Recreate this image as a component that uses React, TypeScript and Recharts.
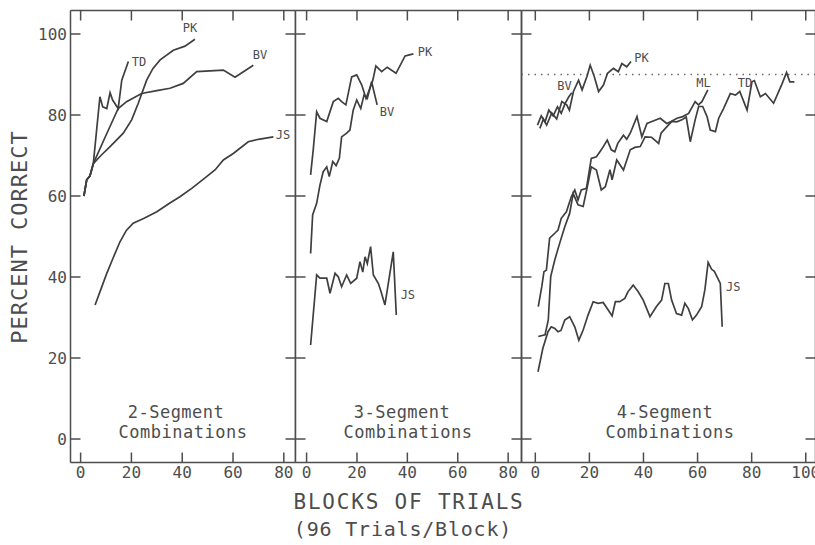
import { Line, LineChart, ReferenceDot, ReferenceLine, XAxis, YAxis } from 'recharts'

type Pt = [number, number]

type SeriesName = {
  name: string
  x: number
  y: number
}

type Series = {
  name: string
  pts: Pt[]
}

// shared percent-correct axis
const pctTicks = [0, 20, 40, 60, 80, 100]
const blockTicks2 = [0, 20, 40, 60, 80]
const blockTicks3 = [0, 20, 40, 60, 80]
const blockTicks4 = [0, 20, 40, 60, 80, 100]
const criterion = 90

// 2-segment combinations
const seg2TD: Pt[] = [
  [1.3, 60], [2.4, 64], [3.7, 65], [5, 68], [7.6, 84.5], [8.7, 82], [10.3, 81.6],
  [11.6, 85.5], [12.6, 83.7], [14.8, 81.6], [16.2, 88.6], [18.8, 93.2],
]
const seg2PK: Pt[] = [
  [1.3, 60], [2.4, 64], [3.7, 65], [5, 68], [8, 70], [11.6, 72.2], [16.8, 75.5],
  [20.1, 78.8], [22.7, 82.9], [26, 88.6], [28.5, 91.5], [31.3, 93.6], [36.5, 96],
  [41.1, 97], [45, 98.7],
]
const seg2BV: Pt[] = [
  [1.3, 60], [2.4, 64], [3.7, 65], [5, 68], [10, 75], [14.8, 81.6], [18.1, 83.3],
  [24, 85.3], [30, 86], [35.2, 86.6], [40.4, 87.8], [45.7, 90.7], [51, 90.9],
  [56.2, 91.1], [60.8, 89.3], [68, 92.3],
]
const seg2JS: Pt[] = [
  [5.7, 33.1], [8, 37], [10.3, 40.9], [13, 45], [15.5, 48.7], [18, 51.5], [20.7, 53.3],
  [25, 54.5], [30, 56.1], [35, 58.2], [39.1, 59.8], [44, 62], [49.6, 64.8], [53, 66.5],
  [56.2, 68.9], [60.1, 70.5], [66, 73.4], [70, 74], [75.9, 74.6],
]
const seg2Names: SeriesName[] = [
  { name: 'PK', x: 43.1, y: 101.5 },
  { name: 'TD', x: 23, y: 93.1 },
  { name: 'BV', x: 70.6, y: 95 },
  { name: 'JS', x: 79.7, y: 75.1 },
]

// 3-segment combinations
const seg3PK: Pt[] = [
  [1.6, 65.2], [2.7, 71.8], [4, 80.8], [5.3, 79.2], [8, 78.4], [10.6, 83.3], [12.6, 84.1],
  [13.9, 83.3], [15.6, 82.5], [17.9, 89.4], [19.9, 89.9], [21.9, 87.4], [23.6, 84.1],
  [24.9, 86.2], [26.3, 88.6], [27.5, 92.1], [29.8, 90.7], [32, 91.8], [35.5, 90.3],
  [39.1, 94.6], [42.4, 95.1],
]
const seg3BV: Pt[] = [
  [1.6, 45.8], [2.4, 55.3], [4, 58.2], [5.3, 62.7], [6.6, 66], [8, 67.2], [9, 64.8],
  [10.4, 68.5], [11.7, 67.5], [13, 69.3], [13.9, 74.6], [15.9, 75.5], [17.2, 76.3],
  [18.5, 81.2], [19.9, 83.7], [21.5, 81.6], [22.8, 84.9], [24.1, 84.1], [25.8, 88.2],
  [28, 82.5],
]
const seg3JS: Pt[] = [
  [1.6, 23.2], [4, 40.5], [5.3, 39.7], [8, 39.7], [9.3, 36], [11.3, 40.9], [12.6, 40],
  [13.9, 37.6], [15.9, 40.5], [17.5, 38.4], [19.9, 39.7], [21.2, 43.8], [22.3, 41.2],
  [23.2, 45], [24.1, 43.3], [25.4, 47.5], [26.5, 40.5], [28.5, 38.4], [29.5, 36.5],
  [31.1, 33.1], [34.4, 46.2], [35.6, 30.6],
]
const seg3Names: SeriesName[] = [
  { name: 'PK', x: 47, y: 95.6 },
  { name: 'BV', x: 31.9, y: 80.7 },
  { name: 'JS', x: 40.2, y: 35.6 },
]

// 4-segment combinations
const seg4PK: Pt[] = [
  [1.7, 76.7], [3, 79], [4.2, 77.5], [6.1, 80.5], [7.9, 79], [9.8, 83.3], [11.6, 82.5],
  [12.6, 81.2], [14.1, 85.8], [16, 88.6], [17.3, 86.2], [19.1, 89.5], [20.3, 92.3],
  [21.8, 89.5], [23.4, 85.8], [25.2, 87.4], [26.7, 90.3], [28.9, 91.5], [30.7, 90.7],
  [32, 92.7], [33.8, 91.9], [35.4, 93.2],
]
const seg4BV: Pt[] = [
  [0.8, 77.5], [2.2, 79.8], [3.6, 78.3], [5, 81.2], [6.6, 79.8], [8.2, 82], [9.6, 80.4],
  [11, 82.8], [12.4, 84.5], [13.5, 85.5],
]
const seg4ML: Pt[] = [
  [1.1, 32.7], [2.4, 37.6], [3.2, 41.3], [4.1, 41.7], [5.3, 49.6], [7.2, 50.8], [8.4, 51.6],
  [9.6, 54.5], [11.5, 56.1], [13.3, 59.8], [14.6, 61.5], [15.8, 59], [17, 61.5],
  [18.9, 61.9], [20.7, 69.3], [22.6, 69.7], [24.4, 71.4], [26.6, 73.8], [28.1, 71.4],
  [29.4, 70.9], [30.5, 73], [32.6, 75], [33.8, 74], [35.1, 75.5], [37.6, 79.6],
  [39.4, 74.6], [41.3, 77.9], [43.1, 78.4], [46.2, 79.2], [48.6, 77.9], [50.2, 78.4],
  [52.4, 79.2], [54.5, 79.6], [56.7, 80.4], [59.1, 83.3], [60.3, 82.5], [61.6, 83.3],
  [63.8, 86.2],
]
const seg4TD: Pt[] = [
  [1.1, 25.3], [3.6, 25.7], [4.8, 29.4], [5.7, 40.1], [7.2, 44.2], [9, 48.3], [10.9, 52.4],
  [12.7, 55.7], [14, 60.6], [15.8, 57.8], [17.7, 57.4], [19.5, 63.1], [20.7, 67.2],
  [22.6, 66.4], [24.4, 61.5], [25.9, 62.3], [27.6, 66.5], [28.4, 64], [30.1, 68.9],
  [32.6, 66.4], [35.1, 71.4], [36.8, 72], [38.8, 72.2], [40.6, 74.6], [43, 74.5],
  [45.6, 73], [46.5, 75.5], [48.5, 77], [50.5, 78.4], [52.3, 78.3], [54.2, 78.8],
  [55.8, 79.5], [57.3, 73.4], [59.1, 78.8], [60.4, 82.1], [61.9, 82.1], [63.5, 79.6],
  [64.7, 76.3], [66.6, 75.9], [67.8, 79.2], [69.6, 81.6], [72.1, 85.3], [74, 84.9],
  [75.6, 85.8], [78.3, 81.2], [80.1, 88.2], [81, 88.5], [83.2, 84.5], [85.1, 85.3],
  [88.1, 82.9], [91.3, 87.8], [92.9, 90.5], [94.1, 88.2], [95.8, 88.2],
]
const seg4JS: Pt[] = [
  [1, 16.6], [2.8, 22.4], [4.7, 26.5], [5.9, 27.7], [7.2, 27.3], [8.4, 26.5], [9.5, 26.8],
  [10.9, 29.4], [12.7, 30.2], [14.6, 27.7], [16.1, 24.4], [17.7, 26.9], [19.5, 30.6],
  [21.4, 33.9], [23.2, 33.5], [25.1, 33.7], [26.9, 31.9], [28.4, 30.4], [29.6, 33.9],
  [31.2, 33.9], [33.1, 34.7], [34.3, 36.4], [36.2, 38], [38, 36.4], [39.9, 34.3],
  [42.4, 30.2], [44.8, 32.7], [46.7, 34.3], [47.9, 38.4], [49.2, 38.4], [50.4, 34.3],
  [52.2, 31], [54.1, 30.6], [55.3, 33.5], [56.6, 32.2], [58.1, 29.4], [59.6, 30.6],
  [61.5, 32.7], [62.7, 36.8], [63.9, 43.6], [65.2, 41.9], [66.2, 41.4], [68.4, 38.4],
  [69.1, 27.7],
]
const seg4Names: SeriesName[] = [
  { name: 'PK', x: 39.3, y: 94.1 },
  { name: 'BV', x: 10.8, y: 87.2 },
  { name: 'ML', x: 62.2, y: 88 },
  { name: 'TD', x: 77.5, y: 88 },
  { name: 'JS', x: 73.2, y: 37.5 },
]

const ink = '#4d4d4d'
const lineInk = '#3f3f3f'
const mono = "'DejaVu Sans Mono', 'Liberation Mono', monospace"
const pctDomain: [number, number] = [-5.8, 105.8]
const plotH = 452
const tickLen = 10

const rows = (pts: Pt[]) => pts.map(([x, y]) => ({ x, y }))

type PanelProps = {
  left: number
  width: number
  ml: number
  mr: number
  plotW: number
  xDomain: [number, number]
  xTicks: number[]
  series: Series[]
  names: SeriesName[]
  pctLabels?: boolean
  criterionLine?: number
}

function Panel({ left, width, ml, mr, plotW, xDomain, xTicks, series, names, pctLabels, criterionLine }: PanelProps) {
  const [x0, x1] = xDomain
  const [y0, y1] = pctDomain
  // inward tick length converted to data units
  const dx = (tickLen * (x1 - x0)) / plotW
  const dy = (tickLen * (y1 - y0)) / plotH
  const frameProps = { xAxisId: 'b', yAxisId: 'l', stroke: ink, strokeWidth: 1.5, ifOverflow: 'visible' as const }

  return (
    <div style={{ position: 'absolute', left, top: 0 }}>
      <LineChart width={width} height={545} margin={{ top: 10.5, right: mr, bottom: 52.5, left: ml }}>
        <XAxis
          xAxisId="b"
          type="number"
          dataKey="x"
          domain={xDomain}
          ticks={xTicks}
          interval={0}
          allowDataOverflow
          height={30}
          tickSize={0}
          tickMargin={4.5}
          axisLine={false}
          tickLine={false}
          tick={{ fill: ink, fontSize: 16, fontFamily: mono }}
        />
        <YAxis
          yAxisId="l"
          type="number"
          domain={pctDomain}
          ticks={pctTicks}
          interval={0}
          allowDataOverflow
          hide={!pctLabels}
          width={60}
          tickSize={0}
          tickMargin={3.5}
          axisLine={false}
          tickLine={false}
          tick={{ fill: ink, fontSize: 16, fontFamily: mono }}
        />
        {/* frame */}
        <ReferenceLine {...frameProps} x={x0} />
        <ReferenceLine {...frameProps} x={x1} />
        <ReferenceLine {...frameProps} y={y0} />
        <ReferenceLine {...frameProps} y={y1} />
        {/* inward ticks on all four sides */}
        {xTicks.map((t) => (
          <ReferenceLine key={`xb${t}`} {...frameProps} segment={[{ x: t, y: y0 }, { x: t, y: y0 + dy }]} />
        ))}
        {xTicks.map((t) => (
          <ReferenceLine key={`xt${t}`} {...frameProps} segment={[{ x: t, y: y1 }, { x: t, y: y1 - dy }]} />
        ))}
        {pctTicks.map((t) => (
          <ReferenceLine key={`yl${t}`} {...frameProps} segment={[{ x: x0, y: t }, { x: x0 + dx, y: t }]} />
        ))}
        {pctTicks.map((t) => (
          <ReferenceLine key={`yr${t}`} {...frameProps} segment={[{ x: x1, y: t }, { x: x1 - dx, y: t }]} />
        ))}
        {criterionLine !== undefined && (
          <ReferenceLine
            xAxisId="b"
            yAxisId="l"
            y={criterionLine}
            stroke="#6a6a6a"
            strokeWidth={1.5}
            strokeDasharray="1.5 5"
          />
        )}
        {series.map((s) => (
          <Line
            key={s.name}
            xAxisId="b"
            yAxisId="l"
            data={rows(s.pts)}
            dataKey="y"
            type="linear"
            stroke={lineInk}
            strokeWidth={1.7}
            dot={false}
            isAnimationActive={false}
          />
        ))}
        {names.map((n) => (
          <ReferenceDot
            key={n.name}
            xAxisId="b"
            yAxisId="l"
            x={n.x}
            y={n.y}
            r={0}
            fill="none"
            stroke="none"
            ifOverflow="visible"
            label={{ value: n.name, position: 'center', fill: ink, fontSize: 12, fontFamily: mono }}
          />
        ))}
      </LineChart>
    </div>
  )
}

export default function App() {
  const txt = { fill: ink, fontFamily: mono }
  return (
    <div style={{ position: 'absolute', left: 0, top: 0, width: 815, height: 545, overflow: 'hidden', background: '#fff' }}>
      <Panel
        left={0}
        width={296}
        ml={10.5}
        mr={0.5}
        plotW={225}
        xDomain={[-3.98, 84.6]}
        xTicks={blockTicks2}
        series={[
          { name: 'TD', pts: seg2TD },
          { name: 'PK', pts: seg2PK },
          { name: 'BV', pts: seg2BV },
          { name: 'JS', pts: seg2JS },
        ]}
        names={seg2Names}
        pctLabels
      />
      <Panel
        left={290}
        width={240}
        ml={5.5}
        mr={8.5}
        plotW={226}
        xDomain={[-4.4, 85.3]}
        xTicks={blockTicks3}
        series={[
          { name: 'PK', pts: seg3PK },
          { name: 'BV', pts: seg3BV },
          { name: 'JS', pts: seg3JS },
        ]}
        names={seg3Names}
      />
      <Panel
        left={515}
        width={310}
        ml={6.5}
        mr={9.5}
        plotW={294}
        xDomain={[-5.1, 103.6]}
        xTicks={blockTicks4}
        series={[
          { name: 'PK', pts: seg4PK },
          { name: 'BV', pts: seg4BV },
          { name: 'ML', pts: seg4ML },
          { name: 'TD', pts: seg4TD },
          { name: 'JS', pts: seg4JS },
        ]}
        names={seg4Names}
        criterionLine={criterion}
      />
      <svg width={815} height={545} style={{ position: 'absolute', left: 0, top: 0, pointerEvents: 'none' }}>
        <text {...txt} x={27} y={237} fontSize={22} letterSpacing={1} textAnchor="middle" transform="rotate(-90 27 237)">
          PERCENT CORRECT
        </text>
        <text {...txt} x={176} y={418} fontSize={17} letterSpacing={0.5} textAnchor="middle">2-Segment</text>
        <text {...txt} x={183} y={438} fontSize={17} letterSpacing={0.5} textAnchor="middle">Combinations</text>
        <text {...txt} x={402} y={418} fontSize={17} letterSpacing={0.5} textAnchor="middle">3-Segment</text>
        <text {...txt} x={408} y={438} fontSize={17} letterSpacing={0.5} textAnchor="middle">Combinations</text>
        <text {...txt} x={665} y={418} fontSize={17} letterSpacing={0.5} textAnchor="middle">4-Segment</text>
        <text {...txt} x={670} y={438} fontSize={17} letterSpacing={0.5} textAnchor="middle">Combinations</text>
        <text {...txt} x={409} y={509} fontSize={21} letterSpacing={1.8} textAnchor="middle">BLOCKS OF TRIALS</text>
        <text {...txt} x={403} y={536} fontSize={20} letterSpacing={0.8} textAnchor="middle">(96 Trials/Block)</text>
      </svg>
    </div>
  )
}
